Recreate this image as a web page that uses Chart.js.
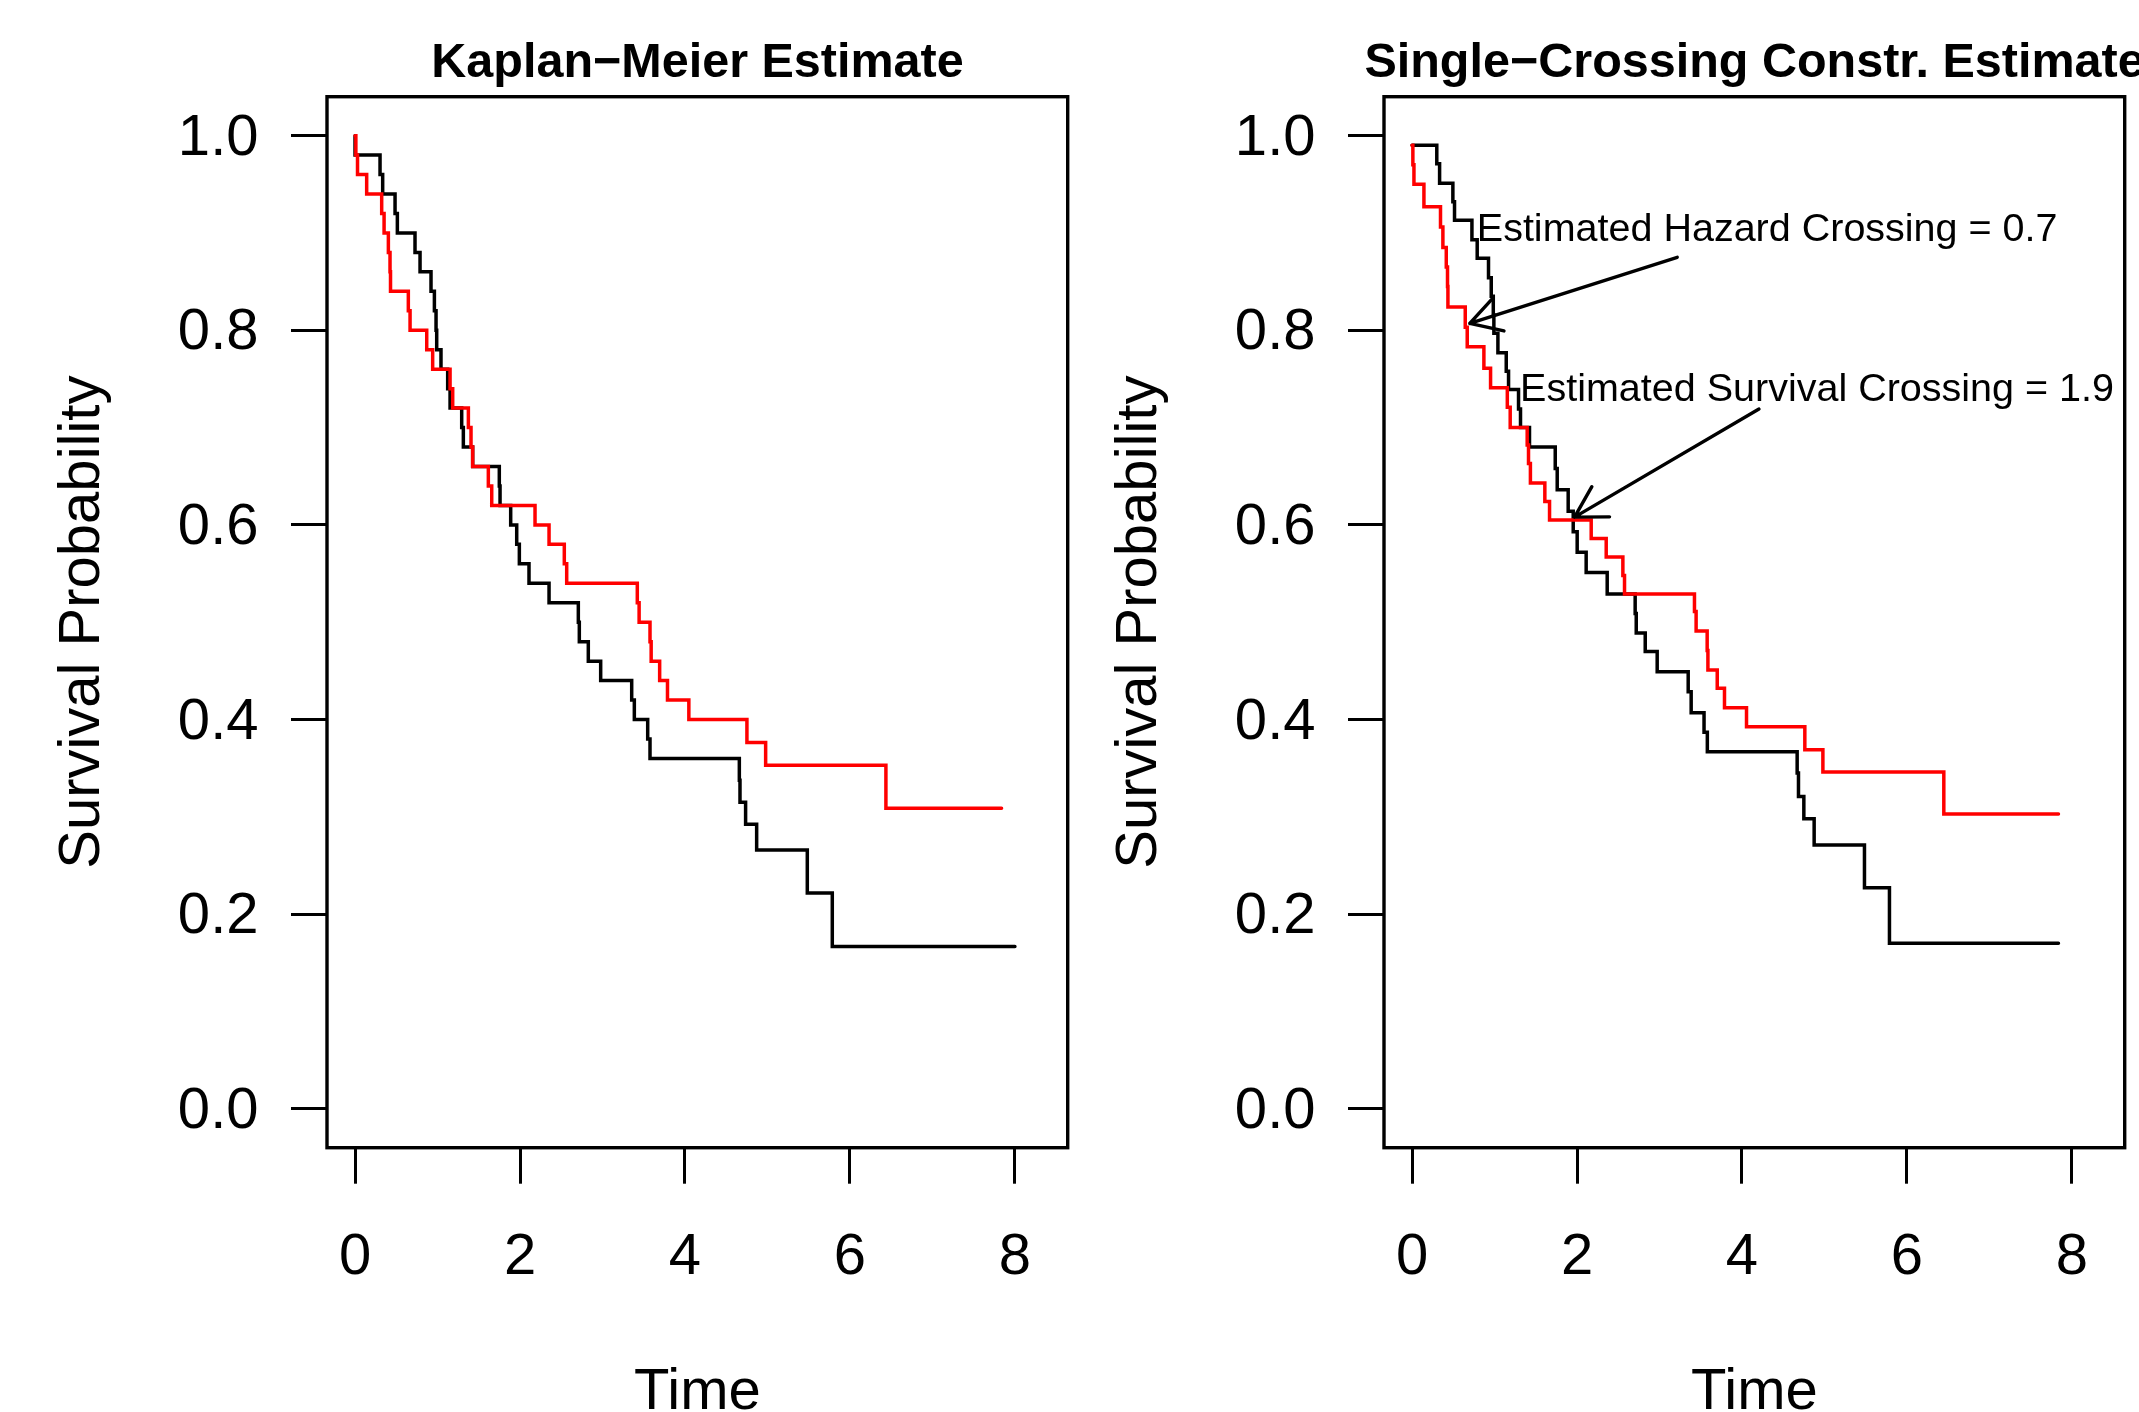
<!DOCTYPE html>
<html>
<head>
<meta charset="utf-8">
<title>Survival estimates</title>
<script src="https://cdn.jsdelivr.net/npm/chart.js@4/dist/chart.umd.min.js"></script>
<style>
  html, body { margin: 0; padding: 0; background: #fff; overflow: hidden; }
  #wrap { position: relative; width: 2139px; height: 1412px; overflow: hidden; background: #fff; }
  canvas { position: absolute; top: 0; }
  #kmCanvas { left: 0; }
  #scCanvas { left: 1057px; }
</style>
</head>
<body>
<div id="wrap">
  <canvas id="kmCanvas" width="1395" height="1412"></canvas>
  <canvas id="scCanvas" width="1395" height="1412"></canvas>
</div>
<script>
// ---- axis ticks ----
const timeTicks = [0, 2, 4, 6, 8];
const probTicks = [0, 0.2, 0.4, 0.6, 0.8, 1.0];

// ---- Kaplan-Meier estimate: event times and survival after each step ----
const kmTimeBlack = [0, 0, 0.303, 0.335, 0.485, 0.513, 0.727, 0.788, 0.921, 0.962,
  0.982, 0.990, 1.042, 1.123, 1.152, 1.293, 1.313, 1.426, 1.749, 1.758,
  1.887, 1.960, 1.992, 2.109, 2.352, 2.707, 2.719, 2.828, 2.978, 3.354,
  3.386, 3.548, 3.576, 4.659, 4.667, 4.735, 4.869, 5.483, 5.786, 8.0];
const kmSurvBlack = [1.0, 0.98, 0.96, 0.94, 0.92, 0.90, 0.88, 0.86, 0.84, 0.82,
  0.80, 0.78, 0.76, 0.74, 0.72, 0.70, 0.68, 0.66, 0.64, 0.62,
  0.60, 0.58, 0.56, 0.54, 0.52, 0.50, 0.48, 0.46, 0.44, 0.42,
  0.40, 0.38, 0.36, 0.3375, 0.315, 0.2925, 0.2659, 0.2216, 0.1667, 0.1667];

const kmTimeRed = [0, 0.01, 0.03, 0.141, 0.323, 0.352, 0.404, 0.424, 0.430, 0.646,
  0.667, 0.869, 0.941, 1.152, 1.184, 1.374, 1.406, 1.426, 1.616, 1.657,
  2.182, 2.352, 2.537, 2.566, 3.422, 3.444, 3.576, 3.590, 3.693, 3.788,
  4.047, 4.751, 4.978, 6.436, 7.838];
const kmSurvRed = [1.0, 0.98, 0.96, 0.94, 0.92, 0.90, 0.88, 0.86, 0.84, 0.82,
  0.80, 0.78, 0.76, 0.74, 0.72, 0.70, 0.68, 0.66, 0.64, 0.62,
  0.60, 0.58, 0.56, 0.54, 0.52, 0.50, 0.48, 0.46, 0.44, 0.42,
  0.40, 0.3765, 0.3529, 0.3088, 0.3088];

// ---- single-crossing constrained estimate ----
const scTimeBlack = [0, 0.300, 0.334, 0.495, 0.515, 0.726, 0.790, 0.927, 0.960, 0.985,
  0.992, 1.041, 1.142, 1.170, 1.291, 1.315, 1.424, 1.736, 1.760, 1.893,
  1.954, 2.002, 2.111, 2.366, 2.705, 2.718, 2.827, 2.972, 3.348, 3.384,
  3.540, 3.580, 4.669, 4.685, 4.750, 4.875, 5.485, 5.788, 7.837];
const scSurvBlack = [0.99, 0.971, 0.951, 0.932, 0.913, 0.893, 0.874, 0.854, 0.835, 0.816,
  0.797, 0.777, 0.758, 0.739, 0.719, 0.700, 0.680, 0.658, 0.636, 0.614,
  0.593, 0.572, 0.551, 0.529, 0.509, 0.489, 0.470, 0.449, 0.4285, 0.407,
  0.387, 0.367, 0.345, 0.321, 0.298, 0.271, 0.227, 0.170, 0.170];

const scTimeRed = [0, 0.01, 0.023, 0.144, 0.345, 0.374, 0.415, 0.430, 0.435, 0.645,
  0.669, 0.871, 0.952, 1.155, 1.190, 1.396, 1.412, 1.435, 1.610, 1.667,
  2.172, 2.354, 2.556, 2.576, 3.424, 3.444, 3.578, 3.587, 3.700, 3.788,
  4.055, 4.762, 4.981, 6.447, 7.837];
const scSurvRed = [0.99, 0.970, 0.950, 0.927, 0.906, 0.885, 0.865, 0.845, 0.824, 0.803,
  0.783, 0.761, 0.741, 0.721, 0.700, 0.682, 0.663, 0.643, 0.624, 0.605,
  0.586, 0.567, 0.548, 0.529, 0.511, 0.491, 0.471, 0.451, 0.432, 0.412,
  0.3925, 0.369, 0.346, 0.303, 0.303];

// ---- estimated crossings ----
const hazardCrossing = 0.7;
const survivalCrossing = 1.97;
const hazardArrowFrom = [3.215, 0.875];
const hazardArrowToY = 0.807;
const hazardLabelAt = [4.305, 0.903];
const survivalArrowFrom = [4.206, 0.719];
const survivalArrowToY = 0.608;
const survivalLabelAt = [4.91, 0.738];

const oneDecimal = v => (Math.floor(v * 10 + 1e-9) / 10).toFixed(1);

// ---- drawing helpers ----
const FONT = '"Liberation Sans", Arial, Helvetica, sans-serif';
const AXIS_FONT = { family: FONT, size: 58 };

const framePlugin = {
  id: 'plotFrame',
  afterDraw(chart) {
    const { ctx, chartArea: a } = chart;
    ctx.save();
    ctx.strokeStyle = '#000';
    ctx.lineWidth = 3.4;
    ctx.strokeRect(a.left, a.top, a.right - a.left, a.bottom - a.top);
    ctx.restore();
  }
};

function notesPlugin(notes) {
  return {
    id: 'crossingNotes',
    afterDatasetsDraw(chart) {
      const { ctx, scales: { x, y } } = chart;
      ctx.save();
      ctx.strokeStyle = '#000';
      ctx.fillStyle = '#000';
      ctx.lineWidth = 3.4;
      ctx.lineCap = 'round';
      ctx.lineJoin = 'round';
      ctx.font = '39.5px ' + FONT;
      ctx.textAlign = 'center';
      ctx.textBaseline = 'middle';
      for (const n of notes) {
        ctx.fillText(n.label, x.getPixelForValue(n.labelAt[0]), y.getPixelForValue(n.labelAt[1]));
        const x0 = x.getPixelForValue(n.from[0]), y0 = y.getPixelForValue(n.from[1]);
        const x1 = x.getPixelForValue(n.to[0]), y1 = y.getPixelForValue(n.to[1]);
        const ang = Math.atan2(y0 - y1, x0 - x1);
        const head = 35, spread = Math.PI / 6;
        ctx.beginPath();
        ctx.moveTo(x0, y0);
        ctx.lineTo(x1, y1);
        ctx.moveTo(x1 + head * Math.cos(ang + spread), y1 + head * Math.sin(ang + spread));
        ctx.lineTo(x1, y1);
        ctx.lineTo(x1 + head * Math.cos(ang - spread), y1 + head * Math.sin(ang - spread));
        ctx.stroke();
      }
      ctx.restore();
    }
  };
}

function stepSeries(times, surv, color, order) {
  return {
    data: times.map((t, i) => ({ x: t, y: surv[i] })),
    borderColor: color,
    backgroundColor: color,
    borderWidth: 3.5,
    stepped: true,
    pointRadius: 0,
    fill: false,
    tension: 0,
    order: order,
    borderCapStyle: 'round'
  };
}

function axisGrid() {
  return {
    display: true,
    drawOnChartArea: false,
    drawTicks: true,
    tickLength: 36,
    tickWidth: 3,
    tickColor: '#000'
  };
}

function buildChart(canvasId, titleText, datasets, notes) {
  return new Chart(document.getElementById(canvasId), {
    type: 'line',
    data: { datasets },
    options: {
      responsive: false,
      animation: false,
      devicePixelRatio: 1,
      events: [],
      layout: { padding: 0 },
      plugins: {
        legend: { display: false },
        tooltip: { enabled: false },
        title: {
          display: true,
          fullSize: true,
          text: titleText,
          color: '#000',
          font: { family: FONT, size: 48.5, weight: 'bold', lineHeight: 1.2 },
          padding: { top: 35, bottom: 3.5 }
        }
      },
      scales: {
        x: {
          type: 'linear',
          min: -0.34,
          max: 8.64,
          afterBuildTicks: ax => { ax.ticks = timeTicks.map(v => ({ value: v })); },
          afterFit: ax => { ax.height = 264.3; },
          grid: axisGrid(),
          border: { display: false },
          ticks: {
            color: '#000', font: AXIS_FONT, padding: 39.5,
            autoSkip: false, maxRotation: 0, minRotation: 0,
            callback: v => String(v)
          },
          title: {
            display: true, text: 'Time', color: '#000',
            font: { family: FONT, size: 58, lineHeight: 1.2 },
            padding: { top: 0, bottom: -16 }
          }
        },
        y: {
          type: 'linear',
          min: -0.04,
          max: 1.04,
          afterBuildTicks: ax => { ax.ticks = probTicks.map(v => ({ value: v })); },
          afterFit: ax => { ax.width = 327; },
          grid: axisGrid(),
          border: { display: false },
          ticks: {
            color: '#000', font: AXIS_FONT, padding: 32.5, labelOffset: 3,
            autoSkip: false,
            callback: v => Number(v).toFixed(1)
          },
          title: {
            display: true, text: 'Survival Probability', color: '#000',
            font: { family: FONT, size: 58, lineHeight: 1.2 },
            padding: { top: 48.5, bottom: 0 }
          }
        },
        // empty right margin so the plot box sits centred under the title
        margin: {
          type: 'linear',
          position: 'right',
          display: true,
          afterFit: ax => { ax.width = 327.3; },
          grid: { display: false },
          border: { display: false },
          ticks: { display: false }
        }
      }
    },
    plugins: [framePlugin, notesPlugin(notes)]
  });
}

buildChart('kmCanvas', 'Kaplan\u2212Meier Estimate', [
  stepSeries(kmTimeRed, kmSurvRed, '#ff0000', 0),
  stepSeries(kmTimeBlack, kmSurvBlack, '#000000', 1)
], []);

buildChart('scCanvas', 'Single\u2212Crossing Constr. Estimate', [
  stepSeries(scTimeRed, scSurvRed, '#ff0000', 0),
  stepSeries(scTimeBlack, scSurvBlack, '#000000', 1)
], [
  {
    label: 'Estimated Hazard Crossing = ' + oneDecimal(hazardCrossing),
    labelAt: hazardLabelAt,
    from: hazardArrowFrom,
    to: [hazardCrossing, hazardArrowToY]
  },
  {
    label: 'Estimated Survival Crossing = ' + oneDecimal(survivalCrossing),
    labelAt: survivalLabelAt,
    from: survivalArrowFrom,
    to: [survivalCrossing, survivalArrowToY]
  }
]);
</script>
</body>
</html>
